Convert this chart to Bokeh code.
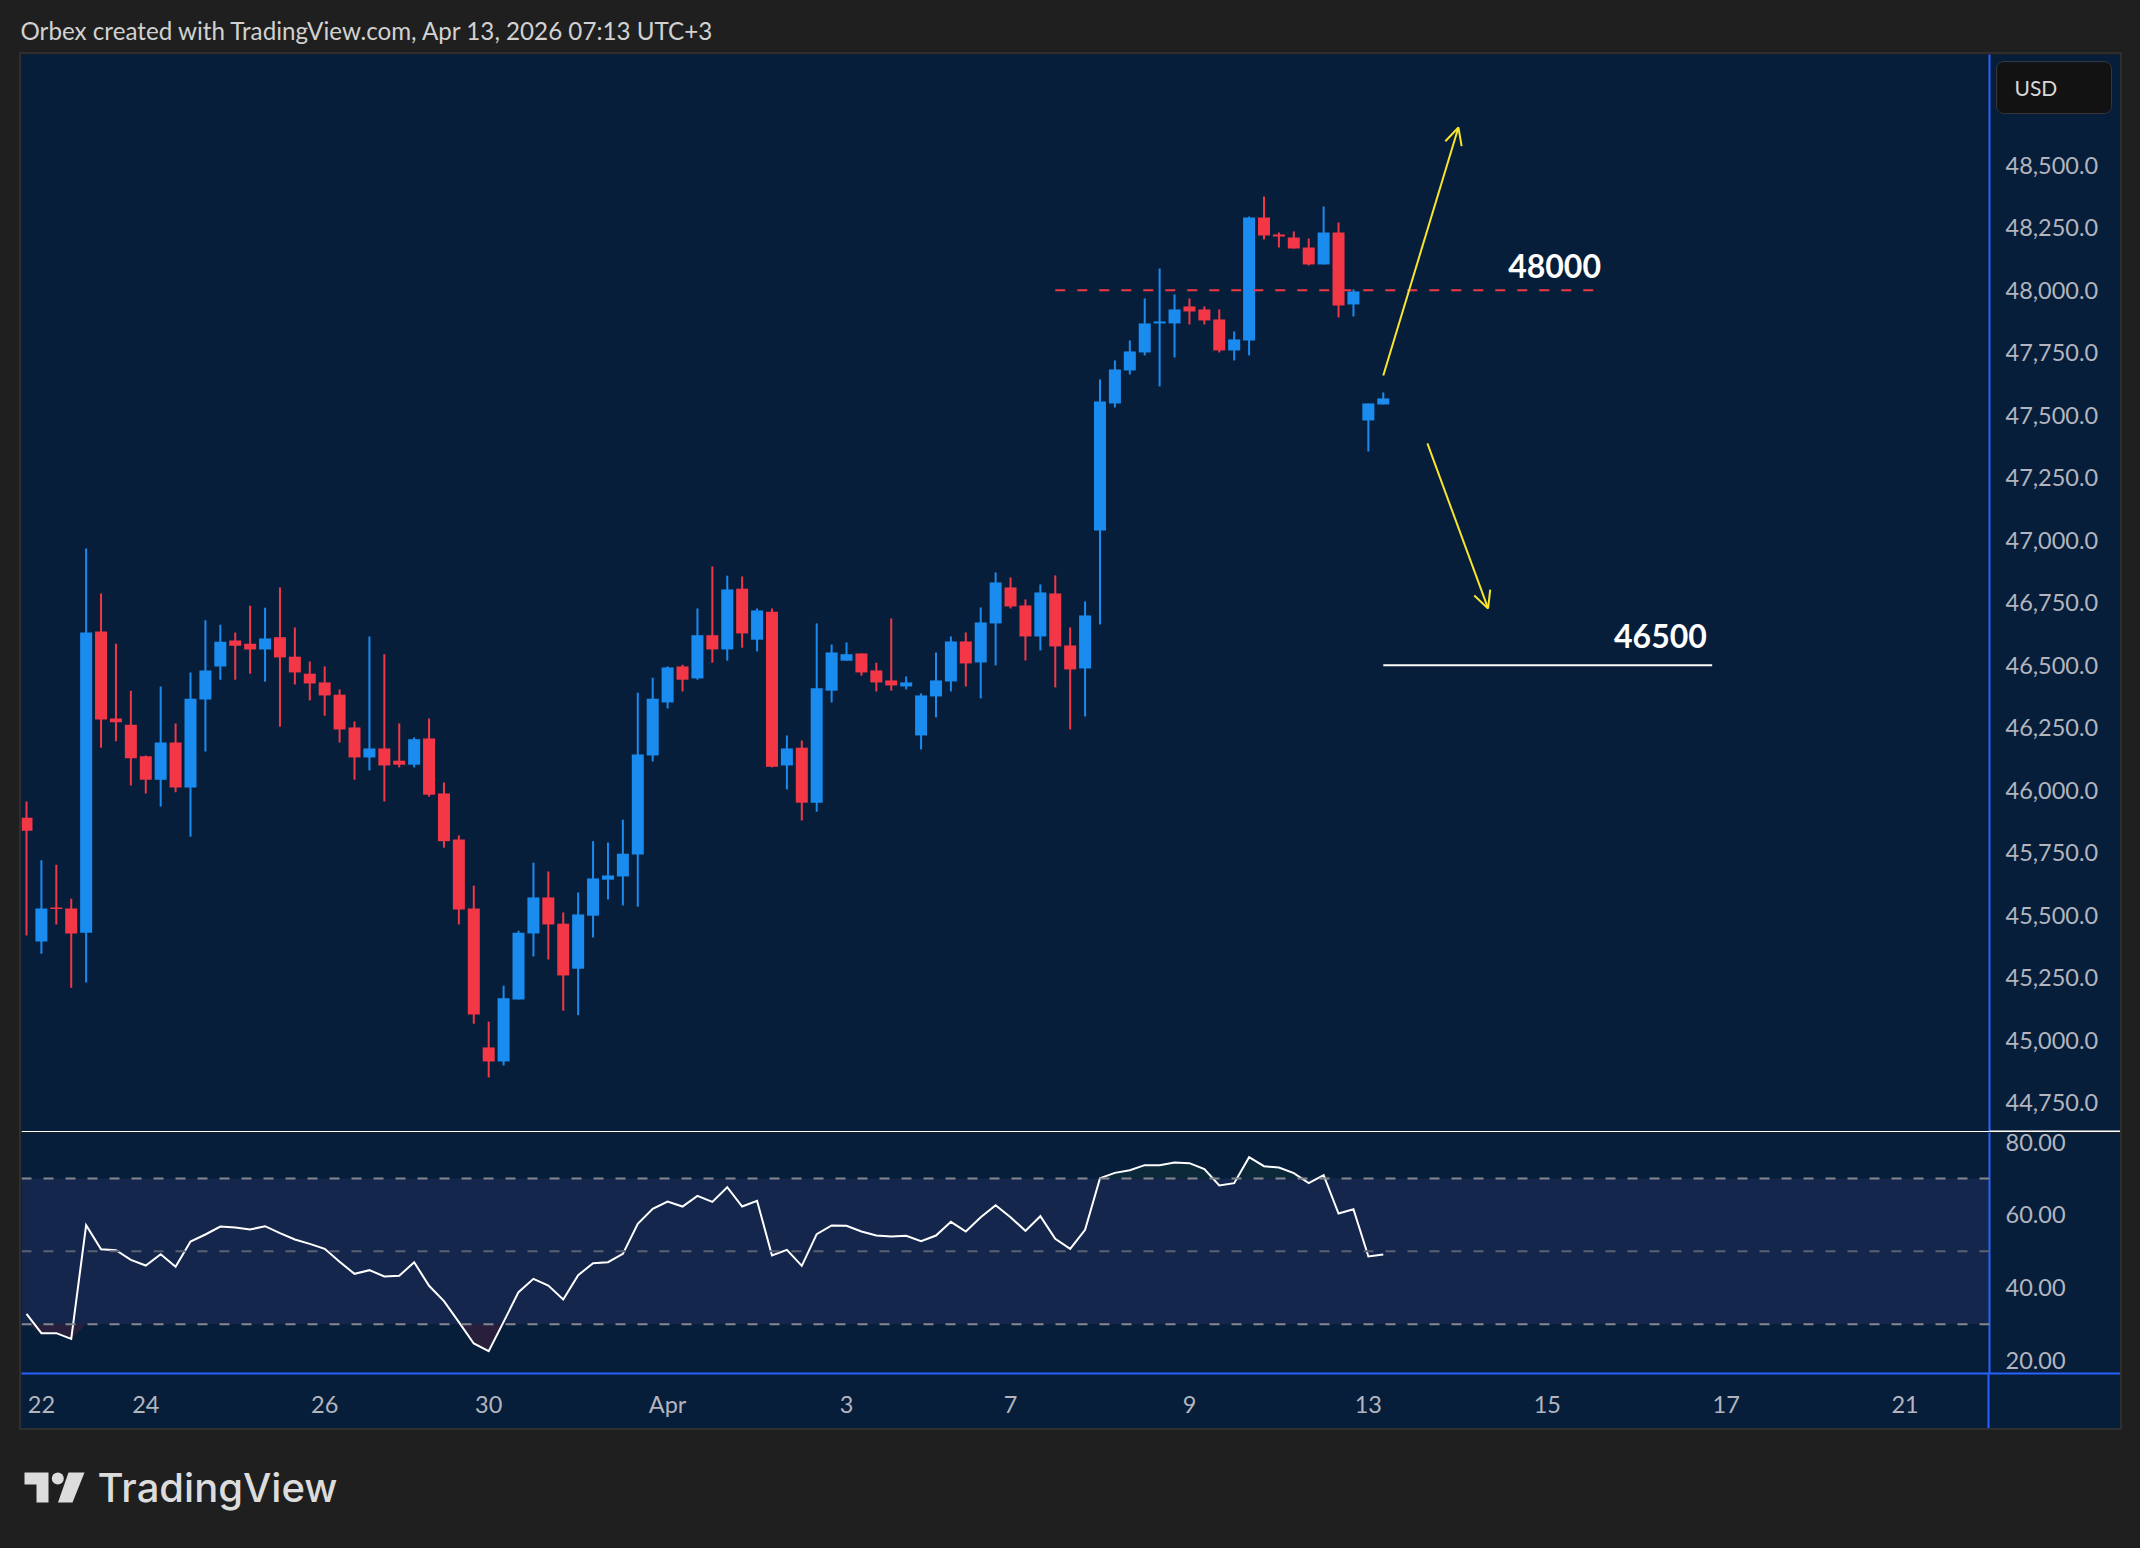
from bokeh.plotting import figure
from bokeh.layouts import column
from bokeh.embed import file_html
from bokeh.resources import INLINE
from bokeh.models import (Range1d, FixedTicker, BoxAnnotation, Label, Span, Arrow, OpenHead,
                          ColumnDataSource, NumeralTickFormatter, GlobalInlineStyleSheet)

opens = [45890, 45395, 45531, 45527, 45430, 46635, 46287, 46262, 46136, 46042, 46191, 46011, 46363, 46495, 46599, 46586,
         46563, 46612, 46534, 46466, 46431, 46382, 46251, 46131, 46167, 46118, 46102, 46207, 45987, 45803, 45527, 44971,
         44915, 45163, 45427, 45571, 45466, 45286, 45498, 45642, 45655, 45743, 46139, 46351, 46495, 46447, 46620, 46563,
         46806, 46602, 46714, 46099, 46170, 45950, 46398, 46518, 46547, 46479, 46439, 46415, 46219, 46375, 46435, 46595,
         46511, 46667, 46811, 46739, 46615, 46787, 46579, 46487, 47039, 47547, 47679, 47751, 47867, 47867, 47935, 47923,
         47883, 47759, 47799, 48291, 48223, 48211, 48171, 48103, 48231, 47943, 47479, 47543]
highs = [45955, 45720, 45702, 45566, 46967, 46787, 46586, 46398, 46139, 46415, 46267, 46471, 46680, 46662, 46631, 46738,
         46730, 46811, 46651, 46515, 46495, 46403, 46275, 46615, 46544, 46267, 46211, 46287, 46031, 45819, 45618, 45074,
         45218, 45438, 45710, 45675, 45511, 45591, 45796, 45791, 45882, 46390, 46450, 46495, 46502, 46727, 46895, 46858,
         46855, 46727, 46727, 46219, 46199, 46667, 46583, 46591, 46547, 46510, 46687, 46455, 46387, 46551, 46615, 46631,
         46731, 46871, 46851, 46763, 46823, 46859, 46651, 46755, 47643, 47719, 47799, 47967, 48087, 47983, 47967, 47935,
         47923, 47835, 48295, 48375, 48231, 48235, 48207, 48335, 48271, 48003, 47547, 47591]
lows = [45419, 45346, 45463, 45210, 45231, 46170, 46196, 46019, 45987, 45935, 45992, 45814, 46155, 46442, 46442, 46466,
        46434, 46254, 46423, 46359, 46298, 46191, 46042, 46079, 45955, 46091, 46091, 45974, 45770, 45463, 45066, 44851,
        44899, 45163, 45335, 45323, 45118, 45100, 45411, 45563, 45539, 45534, 46115, 46327, 46395, 46442, 46510, 46518,
        46570, 46555, 46091, 46003, 45879, 45914, 46351, 46518, 46458, 46395, 46398, 46403, 46163, 46291, 46395, 46415,
        46367, 46499, 46727, 46519, 46559, 46411, 46243, 46295, 46663, 47531, 47663, 47739, 47615, 47731, 47863, 47863,
        47751, 47719, 47739, 48203, 48171, 48167, 48099, 48103, 47891, 47895, 47355, 47543]
closes = [45838, 45527, 45525, 45427, 46631, 46283, 46272, 46128, 46042, 46191, 46011, 46366, 46479, 46594, 46578, 46563,
          46607, 46531, 46471, 46427, 46379, 46243, 46131, 46167, 46099, 46102, 46204, 45982, 45796, 45523, 45103, 44915,
          45168, 45430, 45571, 45463, 45259, 45503, 45647, 45659, 45746, 46143, 46366, 46491, 46442, 46620, 46563, 46803,
          46627, 46719, 46094, 46167, 45950, 46408, 46551, 46544, 46471, 46431, 46419, 46431, 46379, 46439, 46595, 46507,
          46671, 46831, 46735, 46615, 46791, 46575, 46483, 46699, 47555, 47683, 47755, 47867, 47875, 47923, 47915, 47879,
          47759, 47803, 48291, 48219, 48215, 48167, 48103, 48231, 47939, 47995, 47547, 47567]
rsi = [32.85, 27.54, 27.54, 25.99, 57.19, 50.60, 50.33, 47.67, 46.12, 49.23, 45.75, 52.71, 54.63, 56.82, 56.55, 56.00,
       56.91, 54.99, 53.25, 52.06, 50.69, 47.12, 43.83, 44.84, 43.10, 43.28, 47.03, 40.54, 36.33, 30.56, 24.71, 22.60,
       30.65, 38.80, 42.46, 40.63, 36.78, 43.46, 46.76, 47.03, 49.32, 57.55, 61.67, 63.69, 62.31, 65.24, 63.59, 67.62,
       62.31, 63.87, 48.86, 50.42, 46.03, 54.72, 57.10, 57.01, 55.45, 54.35, 54.08, 54.26, 52.80, 54.35, 58.10, 55.45,
       59.38, 62.68, 59.38, 55.63, 59.66, 53.44, 50.69, 55.91, 70.09, 71.55, 72.29, 73.66, 73.66, 74.39, 74.21, 72.56,
       68.08, 68.72, 75.85, 73.38, 73.02, 71.46, 68.72, 70.91, 60.39, 61.58, 48.59, 49.14]

date_ticks = [1, 8, 20, 31, 43, 55, 66, 78, 90, 102, 114, 126]
date_labels = ["22", "24", "26", "30", "Apr", "3", "7", "9", "13", "15", "17", "21"]
price_ticks = [44750, 45000, 45250, 45500, 45750, 46000, 46250, 46500, 46750, 47000, 47250, 47500, 47750, 48000, 48250, 48500]
rsi_ticks = [20, 40, 60, 80]

BG = "#071e3b"
DARK = "#1f1f1f"
EDGE = "#2e2e2e"
BLUE_LINE = "#2962ff"
UP = "#1a8cf0"
DOWN = "#f43747"
YELLOW = "#f7e52e"
AXIS_TEXT = "#b2b5be"
LOGO = "#dcdcdc"
FONT = "Lato"
AXIS_SIZE = "23.5px"

xr = Range1d(-0.335, 131.66)


def style_y(ax, ticks, minor, color):
    # the long minor tick carries a pane divider across the axis, so labels need pulling back
    ax.ticker = FixedTicker(ticks=ticks, minor_ticks=[minor])
    ax.axis_line_color = BLUE_LINE
    ax.axis_line_width = 2
    ax.major_tick_line_color = None
    ax.minor_tick_in = 0
    ax.minor_tick_out = 131
    ax.minor_tick_line_color = color
    ax.minor_tick_line_width = 2
    ax.major_label_standoff = 16 - 131
    ax.major_label_text_color = AXIS_TEXT
    ax.major_label_text_font = FONT
    ax.major_label_text_font_size = AXIS_SIZE


# header strip, ranges are page pixels
head = figure(width=2140, height=54, x_range=(0, 2140), y_range=(54, 0), x_axis_location=None, y_axis_location=None,
              toolbar_location=None, output_backend="svg", min_border=0,
              background_fill_color=DARK, border_fill_color=DARK, outline_line_color=None)
head.grid.visible = False
head.add_layout(Label(x=20, y=30, text="Orbex created with TradingView.com, Apr 13, 2026 07:13 UTC+3",
                      text_color="#d1d1d1", text_font=FONT, text_font_size="24.2px", text_baseline="middle"))

# candles
p1 = figure(width=2099, height=1078, x_range=xr, y_range=Range1d(44630.8, 48942.8),
            x_axis_location=None, y_axis_location="right", toolbar_location=None, output_backend="svg",
            min_border_left=0, min_border_right=131, min_border_top=0, min_border_bottom=0,
            background_fill_color=BG, border_fill_color=BG, outline_line_color=None)
p1.grid.visible = False

src = ColumnDataSource(dict(
    x=list(range(len(opens))), o=opens, h=highs, l=lows, c=closes,
    top=[max(a, b) for a, b in zip(opens, closes)],
    bottom=[min(a, b) for a, b in zip(opens, closes)],
    color=[UP if b >= a else DOWN for a, b in zip(opens, closes)],
))
p1.segment("x", "h", "x", "l", source=src, line_color="color", line_width=2)
p1.vbar("x", width=0.805, top="top", bottom="bottom", source=src, fill_color="color", line_color=None)

# drawings on the chart
p1.line([69, 105.4], [48000, 48000], line_color=DOWN, line_width=2, line_dash=[10, 12])
p1.line([91, 113.06], [46500, 46500], line_color="#ffffff", line_width=2)
p1.add_layout(Arrow(x_start=91.0, y_start=47659, x_end=96.04, y_end=48651, line_color=YELLOW, line_width=2,
                    end=OpenHead(line_color=YELLOW, line_width=2, size=17)))
p1.add_layout(Arrow(x_start=93.96, y_start=47387, x_end=98.03, y_end=46727, line_color=YELLOW, line_width=2,
                    end=OpenHead(line_color=YELLOW, line_width=2, size=17)))
p1.add_layout(Label(x=105.6, y=48095, text="48000", text_color="#ffffff", text_font=FONT, text_font_style="bold",
                    text_font_size="32px", text_align="right", text_baseline="middle"))
p1.add_layout(Label(x=112.7, y=46615, text="46500", text_color="#ffffff", text_font=FONT, text_font_style="bold",
                    text_font_size="32px", text_align="right", text_baseline="middle"))
p1.add_layout(Span(location=44633, dimension="width", line_color="#ffffff", line_width=2))

style_y(p1.yaxis[0], price_ticks, 44633, "#ffffff")
p1.yaxis.formatter = NumeralTickFormatter(format="0,0.0")

# rsi pane
p2 = figure(width=2099, height=296, x_range=xr, y_range=Range1d(16.47, 82.63),
            x_axis_location="below", y_axis_location="right", toolbar_location=None, output_backend="svg",
            min_border_left=0, min_border_right=131, min_border_top=0, min_border_bottom=55,
            background_fill_color=BG, border_fill_color=BG, outline_line_color=None)
p2.grid.visible = False

p2.add_layout(BoxAnnotation(bottom=30, top=70, fill_color="#15264c", fill_alpha=1, line_color=None, level="underlay"))
rsi_x = list(range(len(rsi)))
p2.varea(rsi_x, [70] * len(rsi), [max(v, 70) for v in rsi], fill_color="#0f3037", fill_alpha=0.6)
p2.varea(rsi_x, [30] * len(rsi), [min(v, 30) for v in rsi], fill_color="#4a2040", fill_alpha=0.5)
for level, col in [(70, "#85878f"), (50, "#5b6072"), (30, "#85878f")]:
    p2.add_layout(Span(location=level, dimension="width", line_color=col, line_width=2, line_dash=[10, 12]))
p2.line(rsi_x, rsi, line_color="#ffffff", line_width=2, line_join="miter")

style_y(p2.yaxis[0], rsi_ticks, 16.5, BLUE_LINE)
p2.yaxis.formatter = NumeralTickFormatter(format="0.00")

p2.xaxis.ticker = FixedTicker(ticks=date_ticks, minor_ticks=[131.6])
p2.xaxis.major_label_overrides = dict(zip(date_ticks, date_labels))
p2.xaxis.axis_line_color = BLUE_LINE
p2.xaxis.axis_line_width = 2
p2.xaxis.major_tick_line_color = None
p2.xaxis.minor_tick_in = 0
p2.xaxis.minor_tick_out = 55
p2.xaxis.minor_tick_line_color = BLUE_LINE
p2.xaxis.minor_tick_line_width = 2
p2.xaxis.major_label_standoff = 16 - 55
p2.xaxis.major_label_text_color = AXIS_TEXT
p2.xaxis.major_label_text_font = FONT
p2.xaxis.major_label_text_font_size = AXIS_SIZE

chart = column(p1, p2, spacing=0, margin=(0, 0, 0, 21), styles={"outline": "2px solid " + EDGE})

# logo strip, ranges are page pixels again
logo = figure(width=2140, height=118, x_range=(0, 2140), y_range=(1548, 1430), x_axis_location=None, y_axis_location=None,
              toolbar_location=None, output_backend="svg", min_border=0, margin=(2, 0, 0, 0),
              background_fill_color=DARK, border_fill_color=DARK, outline_line_color=None)
logo.grid.visible = False
logo.patch([24, 48, 48, 36, 36, 24], [1472, 1472, 1502, 1502, 1484, 1484], fill_color=LOGO, line_color=None)
logo.patch([68, 84, 72, 57.5], [1472, 1472, 1502, 1502], fill_color=LOGO, line_color=None)
logo.circle([57.3], [1478], radius=6, fill_color=LOGO, line_color=None)
logo.add_layout(Label(x=97, y=1487, text="TradingView", text_color=LOGO, text_font="Inter Medium, Inter", text_font_size="40px",
                      text_baseline="middle"))

# currency button sits on top of the price axis
usd = figure(width=116, height=53, x_range=(0, 116), y_range=(53, 0), x_axis_location=None, y_axis_location=None,
             toolbar_location=None, output_backend="svg", min_border=0,
             background_fill_color="#121212", border_fill_color="#121212", outline_line_color=None,
             styles={"position": "absolute", "left": "1996px", "top": "61px", "border": "1px solid #363636",
                     "border-radius": "8px", "overflow": "hidden", "box-sizing": "border-box"})
usd.grid.visible = False
usd.add_layout(Label(x=17, y=25, text="USD", text_color="#d8d8d8", text_font=FONT, text_font_size="21px",
                     text_baseline="middle"))

page = column(head, chart, logo, usd, spacing=0,
              stylesheets=[GlobalInlineStyleSheet(css="html,body{background:#1f1f1f;margin:0;overflow:hidden;}")])
open("out.html", "w").write(file_html(page, INLINE))
